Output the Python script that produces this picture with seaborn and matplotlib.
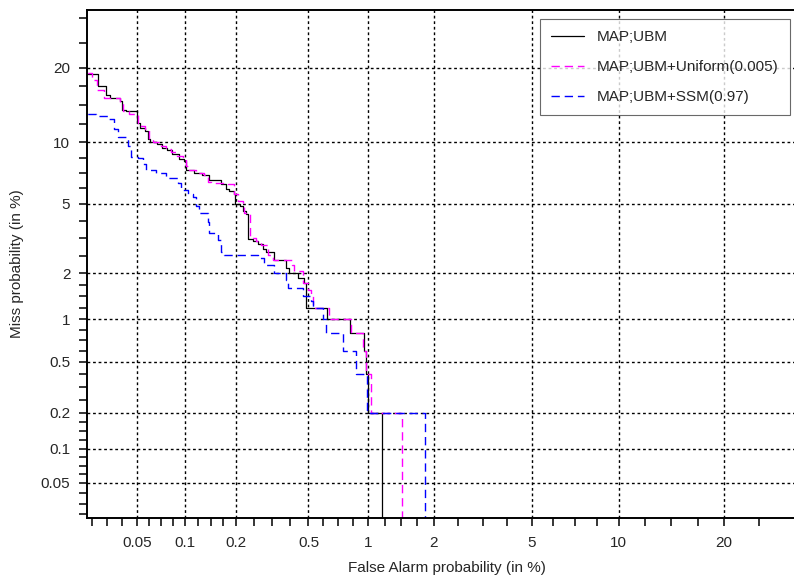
import math
import numpy as np
import matplotlib
matplotlib.use('Agg')
import matplotlib.pyplot as plt
import seaborn as sns

# DET curves, values in percent (false alarm, miss), step levels
fa_ubm = [0.01, 0.0274, 0.0313, 0.0333, 0.0387, 0.0398, 0.0422, 0.0499, 0.052, 0.0561,
          0.0586, 0.0606, 0.0668, 0.0718, 0.0772, 0.0829, 0.091, 0.0978, 0.101, 0.1125,
          0.1265, 0.1395, 0.1635, 0.1746, 0.1826, 0.1953, 0.198, 0.211, 0.218, 0.2276,
          0.233, 0.249, 0.265, 0.283, 0.295, 0.328, 0.38, 0.395, 0.439, 0.473,
          0.485, 0.623, 0.816, 0.956, 0.978, 0.999, 1.16]
miss_ubm = [19.0, 17.2, 15.8, 15.4, 15.0, 13.8, 13.6, 12.2, 11.6, 11.2,
            10.4, 10.0, 9.8, 9.4, 9.2, 8.8, 8.4, 8.2, 7.4, 7.2,
            7.0, 6.6, 6.3, 6.0, 5.8, 5.6, 5.0, 4.9, 4.6, 4.4,
            3.2, 3.1, 3.0, 2.8, 2.7, 2.4, 2.15, 2.0, 1.86, 1.73,
            1.2, 1.0, 0.8, 0.6, 0.4, 0.2, 0.0]

fa_uni = [0.01, 0.0251, 0.0272, 0.0303, 0.0387, 0.0404, 0.0443, 0.0507, 0.0528, 0.0565,
          0.0595, 0.063, 0.0707, 0.0762, 0.0816, 0.0888, 0.0968, 0.101, 0.1057, 0.116,
          0.129, 0.1365, 0.143, 0.179, 0.1953, 0.204, 0.218, 0.222, 0.241, 0.26,
          0.277, 0.301, 0.321, 0.41, 0.418, 0.466, 0.495, 0.516, 0.526, 0.64,
          0.82, 0.938, 0.975, 1.03, 1.435]
miss_uni = [19.2, 18.1, 16.6, 15.4, 14.8, 13.7, 13.3, 12.2, 11.8, 11.4,
            10.4, 10.0, 9.6, 9.3, 9.0, 8.7, 8.4, 7.8, 7.4, 7.2,
            7.0, 6.5, 6.4, 6.3, 5.6, 5.2, 4.9, 4.45, 3.24, 3.1,
            2.97, 2.58, 2.41, 2.25, 2.05, 1.73, 1.57, 1.46, 1.2, 1.0,
            0.8, 0.6, 0.4, 0.2, 0.0]

fa_ssm = [0.01, 0.0268, 0.0329, 0.0355, 0.0374, 0.0422, 0.0433, 0.0456, 0.0503, 0.0543,
          0.0569, 0.0659, 0.0762, 0.0897, 0.0943, 0.104, 0.111, 0.116, 0.122, 0.1365,
          0.1395, 0.15, 0.158, 0.1635, 0.171, 0.265, 0.289, 0.328, 0.38, 0.387,
          0.466, 0.516, 0.53, 0.592, 0.616, 0.748, 0.872, 0.99, 1.83]
miss_ssm = [13.3, 13.0, 12.6, 11.4, 10.6, 10.5, 9.6, 8.6, 8.5, 7.9,
            7.4, 7.2, 6.8, 6.4, 5.9, 5.6, 5.4, 4.86, 4.47, 4.0,
            3.46, 3.4, 3.17, 2.7, 2.58, 2.47, 2.23, 2.0, 1.82, 1.61,
            1.42, 1.32, 1.2, 1.0, 0.8, 0.6, 0.4, 0.2, 0.0]

labels = ['MAP;UBM', 'MAP;UBM+Uniform(0.005)', 'MAP;UBM+SSM(0.97)']
tick_vals = [0.05, 0.1, 0.2, 0.5, 1, 2, 5, 10, 20]
tick_labels = ['0.05', '0.1', '0.2', '0.5', '1', '2', '5', '10', '20']


# normal deviate scale (probit), percent in / out
A = [-3.969683028665376e+01, 2.209460984245205e+02, -2.759285104469687e+02,
     1.383577518672690e+02, -3.066479806614716e+01, 2.506628277459239e+00]
B = [-5.447609879822406e+01, 1.615858368580409e+02, -1.556989798598866e+02,
     6.680131188771972e+01, -1.328068155288572e+01]
C = [-7.784894002430293e-03, -3.223964580411365e-01, -2.400758277161838e+00,
     -2.549671010229720e+00, 4.374664141464968e+00, 2.938163982698783e+00]
D = [7.784695709041462e-03, 3.224671290700398e-01, 2.445134137142996e+00,
     3.754408661907416e+00]


def ppf(p):
    p = np.clip(np.asarray(p, dtype=float), 1e-9, 1 - 1e-9)
    q = np.minimum(p, 1 - p)
    r = np.sqrt(-2 * np.log(q))
    tail = (((((C[0] * r + C[1]) * r + C[2]) * r + C[3]) * r + C[4]) * r + C[5]) / \
           ((((D[0] * r + D[1]) * r + D[2]) * r + D[3]) * r + 1)
    s = p - 0.5
    t = s * s
    mid = (((((A[0] * t + A[1]) * t + A[2]) * t + A[3]) * t + A[4]) * t + A[5]) * s / \
          (((((B[0] * t + B[1]) * t + B[2]) * t + B[3]) * t + B[4]) * t + 1)
    z = np.where(p < 0.02425, tail, np.where(p > 1 - 0.02425, -tail, mid))
    return z


_erf = np.vectorize(math.erf)


def cdf(z):
    z = np.asarray(z, dtype=float)
    return 0.5 * (1 + _erf(z / math.sqrt(2)))


def to_probit(pct):
    return ppf(np.asarray(pct, dtype=float) / 100.0)


def from_probit(z):
    return 100.0 * cdf(z)


sns.set_theme(style='white')
plt.rcParams['font.family'] = ['Liberation Sans', 'DejaVu Sans']

fig = plt.figure(figsize=(7.94, 5.79), dpi=100)
ax = fig.add_axes([87 / 794, 1 - 518 / 579, 719 / 794, 508 / 579])

curves = [(fa_ubm, miss_ubm, 'black', '-', 0.9),
          (fa_uni, miss_uni, 'magenta', (0, (6, 3.5)), 1.0),
          (fa_ssm, miss_ssm, 'blue', (0, (6, 3.5)), 1.0)]
for (fa, miss, col, ls, lw), lab in zip(curves, labels):
    sns.lineplot(x=fa, y=miss, ax=ax, color=col, linestyle=ls, linewidth=lw,
                 estimator=None, sort=False, drawstyle='steps-post', label=lab,
                 legend=False)

ax.set_xscale('function', functions=(to_probit, from_probit))
ax.set_yscale('function', functions=(to_probit, from_probit))
lo, hi = float(from_probit(-3.5)), float(from_probit(-0.5))
ax.set_xlim(lo, hi)
ax.set_ylim(lo, hi)

# minor ticks: even steps in probit between the major values
edges = [0.02] + tick_vals + [40]
minor = []
for a, b in zip(edges[:-1], edges[1:]):
    za, zb = float(to_probit(a)), float(to_probit(b))
    for k in range(1, 4):
        minor.append(float(from_probit(za + (zb - za) * k / 4)))
minor = [m for m in minor if lo < m < hi]

for axis in (ax.xaxis, ax.yaxis):
    axis.set_ticks(tick_vals, labels=tick_labels)
    axis.set_ticks(minor, minor=True)
    axis.set_minor_formatter(matplotlib.ticker.NullFormatter())

ax.tick_params(which='both', direction='out', length=6, width=1.1, color='black',
               labelsize=11, bottom=True, left=True, top=False, right=False)
ax.tick_params(axis='x', pad=7)
ax.tick_params(axis='y', pad=6)
ax.grid(which='major', color='black', linestyle=(0, (2, 2)), linewidth=1.0)
ax.grid(which='minor', visible=False)
for sp in ax.spines.values():
    sp.set_color('black')
    sp.set_linewidth(1.4)

ax.set_xlabel('False Alarm probability (in %)', fontsize=11, labelpad=8)
ax.set_ylabel('Miss probability (in %)', fontsize=11, labelpad=12)

leg = ax.legend(loc='upper right', bbox_to_anchor=(790 / 794, 1 - 19 / 579),
                bbox_transform=fig.transFigure, borderaxespad=0, fontsize=11,
                frameon=True, fancybox=False, edgecolor='#444444',
                handlelength=2.2, handletextpad=0.85, labelspacing=1.05,
                borderpad=0.72)
leg.get_frame().set_linewidth(0.8)

fig.savefig('out.png', dpi=100)
